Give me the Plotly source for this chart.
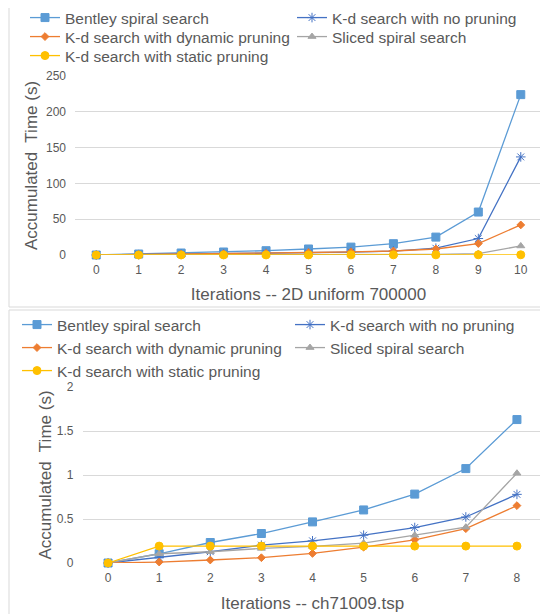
import plotly.graph_objects as go

# ---------------- data ----------------
names = [
    "Bentley spiral search",
    "K-d search with no pruning",
    "K-d search with dynamic pruning",
    "Sliced spiral search",
    "K-d search with static pruning",
]
iter_top = [str(i) for i in range(11)]
iter_bot = [str(i) for i in range(9)]

# Top chart: 2D uniform 700000
bentley_top = [0, 1.4, 2.8, 4.2, 6.0, 8.4, 11.0, 15.8, 25.0, 60.0, 224.0]
nopr_top = [0, 0.5, 1.0, 1.5, 2.2, 3.0, 4.0, 5.5, 9.5, 23.0, 137.0]
dyn_top = [0, 0.5, 1.2, 1.8, 2.5, 3.5, 4.5, 5.6, 8.4, 16.0, 42.0]
sliced_top = [0, 0.1, 0.2, 0.3, 0.4, 0.5, 0.6, 0.8, 1.0, 2.0, 12.6]
static_top = [0, 0.03, 0.06, 0.09, 0.12, 0.15, 0.18, 0.21, 0.24, 0.27, 0.3]

# Bottom chart: ch71009.tsp
bentley_bot = [0, 0.105, 0.233, 0.335, 0.467, 0.603, 0.783, 1.073, 1.63]
nopr_bot = [0, 0.06, 0.128, 0.203, 0.252, 0.316, 0.403, 0.523, 0.78]
dyn_bot = [0, 0.011, 0.034, 0.06, 0.109, 0.18, 0.264, 0.39, 0.652]
sliced_bot = [0, 0.105, 0.128, 0.166, 0.188, 0.226, 0.316, 0.407, 1.02]
static_bot = [0, 0.192, 0.192, 0.192, 0.192, 0.192, 0.192, 0.192, 0.192]

y_ticks_top = [0, 50, 100, 150, 200, 250]
y_ticks_bot = [0, 0.5, 1, 1.5, 2]

# ---------------- style ----------------
W, H = 548, 614
OFF = 8  # page body margin offset of the rendered figure
colors = ["#5B9BD5", "#4472C4", "#ED7D31", "#A5A5A5", "#FFC000"]
symbols = ["square", "asterisk-open", "diamond", "triangle-up", "circle"]
sizes = [8, 8, 6, 7, 8]
txt = "#595959"
grid = "#D9D9D9"
FONT = "Liberation Sans"


def px_x(x):
    return (x - OFF) / W


def px_y(y):
    return 1 - (y - OFF) / H


# legend positions (pixel x of box left, pixel y of row center), in window pixels
leg_top = [(25, 18), (292, 18), (25, 37), (292, 37), (25, 56)]
leg_bot = [(17, 325), (290, 325), (17, 348), (290, 348), (17, 371)]

fig = go.Figure()
series_top = [bentley_top, nopr_top, dyn_top, sliced_top, static_top]
series_bot = [bentley_bot, nopr_bot, dyn_bot, sliced_bot, static_bot]

legends = {}
k = 1
for panel, xs, series, legpos, xa, ya in [
    ("top", iter_top, series_top, leg_top, "x", "y"),
    ("bot", iter_bot, series_bot, leg_bot, "x2", "y2"),
]:
    for i in range(5):
        lname = f"legend{k + 1}"
        fig.add_trace(go.Scatter(
            x=xs, y=series[i], name=names[i], mode="lines+markers",
            line=dict(color=colors[i], width=1.3),
            marker=dict(symbol=symbols[i], size=sizes[i], color=colors[i],
                        line=dict(color=colors[i], width=1)),
            xaxis=xa, yaxis=ya, legend=lname, cliponaxis=False,
        ))
        lx, ly = legpos[i]
        legends[lname] = dict(x=px_x(lx), y=px_y(ly), xanchor="left", yanchor="middle",
                              font=dict(size=15.5, color=txt, family=FONT),
                              bgcolor="rgba(0,0,0,0)", borderwidth=0)
        k += 1

tickfont = dict(size=12, color=txt, family=FONT)
titlefont = dict(size=17, color=txt, family=FONT)

fig.update_layout(
    width=W, height=H,
    margin=dict(l=0, r=0, t=0, b=0, autoexpand=False),
    paper_bgcolor="white", plot_bgcolor="white",
    font=dict(family=FONT, color=txt),
    legend=dict(visible=False),
    xaxis=dict(domain=[px_x(75), px_x(542)], anchor="y", type="category", automargin=False,
               range=[-0.5, 10.5], showgrid=False, zeroline=False, showline=False,
               ticks="", tickfont=tickfont, ticklabelstandoff=6,
               title=dict(text="Iterations -- 2D uniform 700000", font=titlefont, standoff=12)),
    yaxis=dict(domain=[px_y(255), px_y(76)], anchor="x", range=[0, 250], automargin=False,
               tickvals=y_ticks_top, gridcolor=grid, gridwidth=1, zeroline=False,
               showline=False, ticks="", tickfont=tickfont, ticklabelstandoff=8,
               title=dict(text="Accumulated  Time (s)", font=titlefont, standoff=4)),
    xaxis2=dict(domain=[px_x(82.5), px_x(542.5)], anchor="y2", type="category", automargin=False,
                range=[-0.5, 8.5], showgrid=False, zeroline=False, showline=False,
                ticks="", tickfont=tickfont, ticklabelstandoff=6,
                title=dict(text="Iterations -- ch71009.tsp", font=titlefont, standoff=13)),
    yaxis2=dict(domain=[px_y(563), px_y(387)], anchor="x2", range=[0, 2], automargin=False,
                tickvals=y_ticks_bot, gridcolor=grid, gridwidth=1, zeroline=False,
                showline=False, ticks="", tickfont=tickfont, ticklabelstandoff=8,
                title=dict(text="Accumulated  Time (s)", font=titlefont, standoff=0)),
    shapes=[
        dict(type="rect", xref="paper", yref="paper", x0=px_x(9), x1=px_x(560),
             y0=px_y(307), y1=px_y(5), line=dict(color=grid, width=1)),
        dict(type="rect", xref="paper", yref="paper", x0=px_x(9), x1=px_x(560),
             y0=px_y(640), y1=px_y(310), line=dict(color=grid, width=1)),
    ],
    **legends,
)

fig.write_html("out.html")
